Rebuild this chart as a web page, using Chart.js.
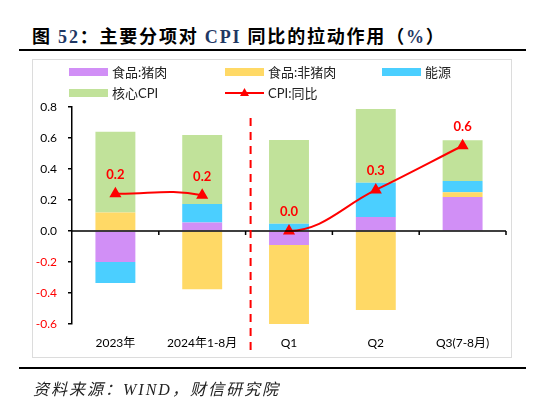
<!DOCTYPE html>
<html>
<head>
<meta charset="utf-8">
<script src="https://cdn.jsdelivr.net/npm/chart.js@4.4.1/dist/chart.umd.min.js"></script>
<style>
  body { margin: 0; background: #fff; }
  #page { position: relative; width: 537px; height: 408px; overflow: hidden; }
  #title { position: absolute; left: 32px; top: 22px; font: bold 18px "Liberation Serif", "Noto Sans CJK SC", serif; letter-spacing: 1.8px; color: #000; white-space: nowrap; }
  #title .n { color: #1F3864; }
  .rule { position: absolute; left: 19px; width: 507px; height: 2px; background: #000; }
  #box { position: absolute; left: 32px; top: 59px; width: 478px; height: 297px; border: 1.5px solid #DCDCDC; }
  #source { position: absolute; left: 33px; top: 376px; font: italic 16px "Liberation Serif", "Noto Sans CJK SC", serif; letter-spacing: 2px; color: #222; white-space: nowrap; }
  canvas { position: absolute; left: 0; top: 0; }
</style>
</head>
<body>
<div id="page">
  <div id="title">图 <span class="n">52</span>：主要分项对 <span class="n">CPI</span> 同比的拉动作用（<span class="n">%</span>）</div>
  <div class="rule" style="top:49px"></div>
  <div id="box"></div>
  <canvas id="cpiChart" width="537" height="408"></canvas>
  <div class="rule" style="top:367px"></div>
  <div id="source">资料来源：WIND，财信研究院</div>
</div>
<script>
// categories and values
var periods = ["2023年", "2024年1-8月", "Q1", "Q2", "Q3(7-8月)"];
var pork = [-0.20, 0.055, -0.09, 0.09, 0.22];
var nonPork = [0.12, -0.375, -0.52, -0.51, 0.03];
var energy = [-0.135, 0.12, 0.047, 0.222, 0.073];
var core = [0.52, 0.445, 0.54, 0.475, 0.262];
var cpi = [0.24, 0.23, 0.0, 0.265, 0.55];
var yTicks = [-0.6, -0.4, -0.2, 0.0, 0.2, 0.4, 0.6, 0.8];
var gapAfter = 1; // no line between the yearly and the quarterly points

var RED = "#FF0000";
var colors = { pork: "#D18FF6", nonPork: "#FFD966", energy: "#4BCFFF", core: "#C1E29A" };
var axisFont = { family: "Lato, 'Noto Sans CJK SC', sans-serif", size: 12 };

// zero line, dashed divider, value labels, legend
var extras = {
  id: "extras",
  afterDatasetsDraw(chart) {
    var ctx = chart.ctx, x = chart.scales.x, y = chart.scales.y, area = chart.chartArea;
    var y0 = y.getPixelForValue(0);
    ctx.save();
    ctx.strokeStyle = "#000";
    ctx.lineWidth = 1.5;
    ctx.beginPath();
    ctx.moveTo(area.left, y0);
    ctx.lineTo(area.right, y0);
    var step = (area.right - area.left) / periods.length;
    for (var k = 1; k <= periods.length; k++) {
      var tx = area.left + k * step;
      ctx.moveTo(tx, y0);
      ctx.lineTo(tx, y0 + 4);
    }
    ctx.stroke();

    // divider between yearly and quarterly
    var dx = (x.getPixelForValue(1) + x.getPixelForValue(2)) / 2 + 5;
    ctx.strokeStyle = RED;
    ctx.lineWidth = 2;
    ctx.setLineDash([8, 6]);
    ctx.beginPath();
    ctx.moveTo(dx, 118);
    ctx.lineTo(dx, 354);
    ctx.stroke();
    ctx.setLineDash([]);

    // CPI value labels
    var meta = chart.getDatasetMeta(4);
    ctx.fillStyle = RED;
    ctx.font = "bold 13px Lato, sans-serif";
    ctx.textAlign = "center";
    ctx.textBaseline = "middle";
    meta.data.forEach(function (pt, i) {
      ctx.fillText(cpi[i].toFixed(1), pt.x, pt.y - 19);
    });
    ctx.restore();
  },
  afterDraw(chart) {
    var ctx = chart.ctx;
    var items = [
      { text: "食品:猪肉", color: colors.pork, x: 69, y: 72 },
      { text: "食品:非猪肉", color: colors.nonPork, x: 225, y: 72 },
      { text: "能源", color: colors.energy, x: 382, y: 72 },
      { text: "核心CPI", color: colors.core, x: 69, y: 93 },
      { text: "CPI:同比", line: true, x: 225, y: 93 }
    ];
    ctx.save();
    ctx.font = "13px Lato, 'Noto Sans CJK SC', sans-serif";
    ctx.textBaseline = "middle";
    items.forEach(function (it) {
      if (it.line) {
        ctx.strokeStyle = RED;
        ctx.lineWidth = 2;
        ctx.beginPath();
        ctx.moveTo(it.x, it.y);
        ctx.lineTo(it.x + 39, it.y);
        ctx.stroke();
        ctx.fillStyle = RED;
        ctx.beginPath();
        ctx.moveTo(it.x + 19.5, it.y - 5);
        ctx.lineTo(it.x + 24, it.y + 3);
        ctx.lineTo(it.x + 15, it.y + 3);
        ctx.closePath();
        ctx.fill();
      } else {
        ctx.fillStyle = it.color;
        ctx.fillRect(it.x, it.y - 4, 39, 8);
      }
      ctx.fillStyle = "#222";
      ctx.fillText(it.text, it.x + 43, it.y + 1);
    });
    ctx.restore();
  }
};

function bar(label, data, color) {
  return { type: "bar", label: label, data: data, backgroundColor: color, borderWidth: 0, order: 1 };
}

var chart = new Chart(document.getElementById("cpiChart").getContext("2d"), {
  data: {
    labels: periods,
    datasets: [
      bar("食品:猪肉", pork, colors.pork),
      bar("食品:非猪肉", nonPork, colors.nonPork),
      bar("能源", energy, colors.energy),
      bar("核心CPI", core, colors.core),
      {
        type: "line",
        label: "CPI:同比",
        data: cpi,
        borderColor: RED,
        backgroundColor: RED,
        borderWidth: 2,
        tension: 0.4,
        segment: {
          borderColor: function (c) { return c.p0DataIndex === gapAfter ? "rgba(0,0,0,0)" : RED; }
        },
        pointStyle: "triangle",
        pointRadius: 5,
        pointHoverRadius: 5,
        order: 0
      }
    ]
  },
  options: {
    responsive: false,
    animation: false,
    layout: { padding: { left: 32, right: 31, top: 107, bottom: 50 } },
    plugins: { legend: { display: false }, tooltip: { enabled: false } },
    datasets: { bar: { barPercentage: 0.46, categoryPercentage: 1 } },
    scales: {
      x: {
        stacked: true,
        grid: { display: false, drawTicks: false },
        border: { display: false },
        ticks: { color: "#000", font: axisFont, padding: 12, maxRotation: 0 },
        afterFit: function (s) { s.height = 34; }
      },
      y: {
        stacked: true,
        min: yTicks[0],
        max: yTicks[yTicks.length - 1],
        afterBuildTicks: function (s) { s.ticks = yTicks.map(function (v) { return { value: v }; }); },
        grid: { display: true, drawOnChartArea: false, drawTicks: true, tickLength: 4, color: "#000", lineWidth: 1.5 },
        border: { display: true, color: "#000", width: 1.5 },
        ticks: {
          font: axisFont,
          padding: 11,
          color: function (c) { return c.tick.value < 0 ? RED : "#000"; },
          callback: function (v) { return Math.abs(v) < 1e-9 ? "0.0" : Number(v).toFixed(1); }
        },
        afterFit: function (s) { s.width = 40; }
      }
    }
  },
  plugins: [extras]
});
</script>
</body>
</html>
